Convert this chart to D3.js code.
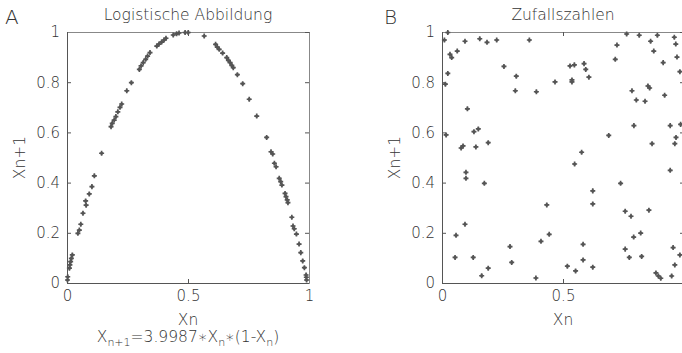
<!DOCTYPE html>
<html>
<head>
<meta charset="utf-8">
<script src="https://cdn.jsdelivr.net/npm/d3@7"></script>
<style>
  body { margin: 0; background: #fff; }
  svg { display: block; }
</style>
</head>
<body>
<div id="chart"></div>
<script>
// panel A: logistic map, x_n against x_n+1
const logisticX = [0.002, 0.003, 0.010, 0.012, 0.015, 0.018, 0.022, 0.045, 0.051, 0.057,
  0.066, 0.077, 0.079, 0.092, 0.103, 0.113, 0.143, 0.182, 0.187, 0.195,
  0.202, 0.210, 0.219, 0.226, 0.247, 0.266, 0.299, 0.306, 0.315, 0.325,
  0.333, 0.343, 0.371, 0.380, 0.391, 0.401, 0.409, 0.439, 0.453, 0.463,
  0.488, 0.501, 0.567, 0.614, 0.621, 0.629, 0.643, 0.660, 0.667, 0.674,
  0.681, 0.687, 0.704, 0.726, 0.753, 0.784, 0.825, 0.843, 0.850, 0.857,
  0.864, 0.877, 0.883, 0.888, 0.901, 0.905, 0.910, 0.913, 0.929, 0.934,
  0.939, 0.948, 0.959, 0.966, 0.974, 0.981, 0.988, 0.989, 0.990]
const logisticY = [0.012, 0.025, 0.059, 0.072, 0.085, 0.098, 0.112, 0.198, 0.211, 0.234,
  0.278, 0.327, 0.310, 0.355, 0.384, 0.427, 0.517, 0.623, 0.636, 0.649,
  0.663, 0.682, 0.700, 0.713, 0.766, 0.798, 0.851, 0.865, 0.878, 0.891,
  0.904, 0.918, 0.944, 0.952, 0.960, 0.968, 0.975, 0.988, 0.993, 0.996,
  0.998, 0.998, 0.984, 0.951, 0.940, 0.931, 0.916, 0.898, 0.887, 0.878,
  0.867, 0.858, 0.830, 0.794, 0.732, 0.665, 0.580, 0.523, 0.514, 0.477,
  0.463, 0.417, 0.404, 0.390, 0.357, 0.344, 0.331, 0.320, 0.262, 0.227,
  0.216, 0.195, 0.155, 0.121, 0.088, 0.061, 0.032, 0.023, 0.012]

// panel B: random numbers
const randomX = [0.024, 0.010, 0.095, 0.156, 0.186, 0.226, 0.361, 0.033, 0.040, 0.063,
  0.024, 0.014, 0.256, 0.307, 0.303, 0.390, 0.467, 0.105, 0.017, 0.132,
  0.150, 0.140, 0.191, 0.079, 0.087, 0.763, 0.815, 0.890, 0.960, 0.966,
  0.723, 0.862, 0.875, 0.971, 0.914, 0.716, 0.529, 0.547, 0.587, 0.594,
  0.537, 0.537, 0.607, 0.983, 0.785, 0.851, 0.858, 0.803, 0.839, 0.920,
  0.793, 0.943, 0.986, 0.689, 0.967, 0.868, 0.962, 0.577, 0.099, 0.099,
  0.175, 0.095, 0.058, 0.054, 0.129, 0.191, 0.164, 0.281, 0.288, 0.433,
  0.443, 0.409, 0.388, 0.548, 0.943, 0.738, 0.623, 0.623, 0.757, 0.781,
  0.855, 0.821, 0.792, 0.583, 0.757, 0.955, 0.583, 0.774, 0.825, 0.983,
  0.518, 0.552, 0.623, 0.962, 0.884, 0.894, 0.904, 0.949]
const randomY = [0.998, 0.968, 0.963, 0.973, 0.959, 0.968, 0.968, 0.911, 0.898, 0.924,
  0.835, 0.792, 0.863, 0.824, 0.766, 0.762, 0.801, 0.694, 0.590, 0.603,
  0.614, 0.542, 0.559, 0.538, 0.546, 0.992, 0.987, 0.987, 0.979, 0.952,
  0.948, 0.963, 0.924, 0.900, 0.878, 0.891, 0.865, 0.869, 0.874, 0.851,
  0.809, 0.801, 0.820, 0.842, 0.766, 0.785, 0.777, 0.729, 0.724, 0.748,
  0.627, 0.627, 0.632, 0.588, 0.580, 0.555, 0.555, 0.521, 0.441, 0.417,
  0.397, 0.234, 0.190, 0.102, 0.102, 0.059, 0.029, 0.145, 0.082, 0.311,
  0.194, 0.166, 0.020, 0.474, 0.449, 0.397, 0.367, 0.315, 0.286, 0.266,
  0.290, 0.199, 0.183, 0.154, 0.135, 0.141, 0.092, 0.102, 0.106, 0.112,
  0.067, 0.048, 0.063, 0.072, 0.040, 0.028, 0.019, 0.028]

const xTicks = [0, 0.5, 1]
const yTicks = [0, 0.2, 0.4, 0.6, 0.8, 1]

const WIDTH = 682
const HEIGHT = 353
const PLOT = { TOP: 32, BOTTOM: 283, W: 242 }
const FONT = "DejaVu Sans"
const INK = "#333"

const svg = d3.select("#chart")
  .append("svg")
    .attr("width", WIDTH)
    .attr("height", HEIGHT)

function panel(left, letter, letterX, title, xs, ys) {
  const g = svg.append("g")

  const x = d3.scaleLinear().domain([0, 1]).range([left, left + PLOT.W])
  const y = d3.scaleLinear().domain([0, 1]).range([PLOT.BOTTOM, PLOT.TOP])

  const fmt = d3.format("~g")
  // labels that would fall off the right edge of the page are left out
  const xFmt = d => x(d) > WIDTH - 4 ? "" : fmt(d)

  // bottom + left carry labels, top + right just mirror the ticks
  const bottom = g.append("g")
    .attr("transform", `translate(0, ${PLOT.BOTTOM})`)
    .call(d3.axisBottom(x).tickValues(xTicks).tickFormat(xFmt).tickSizeInner(-4).tickSizeOuter(0).tickPadding(7))
  const leftAx = g.append("g")
    .attr("transform", `translate(${left}, 0)`)
    .call(d3.axisLeft(y).tickValues(yTicks).tickFormat(fmt).tickSizeInner(-4).tickSizeOuter(0).tickPadding(7))
  const top = g.append("g")
    .attr("transform", `translate(0, ${PLOT.TOP})`)
    .call(d3.axisTop(x).tickValues(xTicks).tickFormat("").tickSizeInner(-4).tickSizeOuter(0))
  const right = g.append("g")
    .attr("transform", `translate(${left + PLOT.W}, 0)`)
    .call(d3.axisRight(y).tickValues(yTicks).tickFormat("").tickSizeInner(-4).tickSizeOuter(0))

  ;[bottom, leftAx, top, right].forEach(a => {
    a.selectAll("path, line").attr("stroke", "#555").attr("stroke-width", 1)
    a.selectAll("text")
      .attr("fill", INK)
      .style("font-family", FONT)
      .style("font-size", "15px")
      .style("font-weight", 300)
  })
  top.select("path").attr("stroke", "#888")
  right.select("path").attr("stroke", "#888")

  const sym = d3.symbol().type(d3.symbolCross).size(14)
  g.append("g").selectAll("g")
    .data(xs.map((d, i) => [d, ys[i]]))
    .enter().append("g")
      .attr("transform", d => `translate(${x(d[0])}, ${y(d[1])})`)
      .each(function () {
        d3.select(this).append("circle").attr("r", 1.6).attr("fill", "#555")
        d3.select(this).append("path").attr("d", sym).attr("fill", "#555")
      })

  const txt = (tx, ty, s, size) => g.append("text")
    .attr("x", tx).attr("y", ty)
    .attr("text-anchor", "middle")
    .attr("fill", INK)
    .style("font-family", FONT)
    .style("font-size", size + "px")
    .style("font-weight", 300)
    .text(s)

  const mid = left + PLOT.W / 2
  txt(mid, 20, title, 15.5)
  txt(mid, 325, "Xn", 15.5)
  txt(letterX, 24, letter, 20).attr("text-anchor", "start")

  g.append("text")
    .attr("transform", `translate(${left - 42}, ${(PLOT.TOP + PLOT.BOTTOM) / 2}) rotate(-90)`)
    .attr("text-anchor", "middle")
    .attr("fill", INK)
    .style("font-family", FONT)
    .style("font-size", "15.5px")
    .style("font-weight", 300)
    .text("Xn+1")

  return g
}

const gA = panel(67, "A", 5, "Logistische Abbildung", logisticX, logisticY)
panel(442, "B", 384, "Zufallszahlen", randomX, randomY)

// formula under panel A
const formula = gA.append("text")
  .attr("x", 67 + PLOT.W / 2)
  .attr("y", 346)
  .attr("text-anchor", "middle")
  .attr("fill", INK)
  .style("font-family", FONT)
  .style("font-size", "15.5px")
  .style("font-weight", 300)

const parts = [["X"], ["n+1", true], ["=3.9987\u2217X"], ["n", true], ["\u2217(1-X"], ["n", true], [")"]]
parts.forEach(p => {
  formula.append("tspan")
    .attr("dy", p[1] ? 4 : (formula.selectAll("tspan").size() ? -4 : 0))
    .style("font-size", p[1] ? "11px" : null)
    .text(p[0])
})
</script>
</body>
</html>
